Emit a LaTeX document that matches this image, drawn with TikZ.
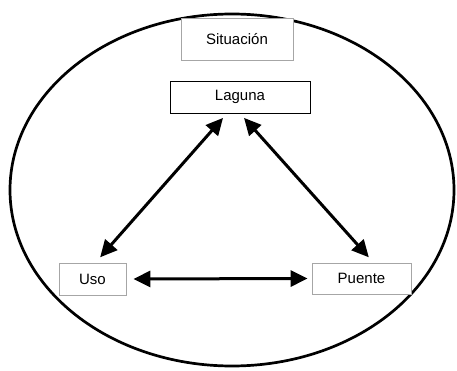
\documentclass[tikz,border=0pt]{standalone}
\usepackage{fontspec}
\setmainfont{Liberation Sans}
\usetikzlibrary{arrows.meta}
\begin{document}
\begin{tikzpicture}[x=1pt,y=1pt,
  box/.style={draw=gray!70,line width=0.9pt,fill=white,minimum width=#1,minimum height=32pt,inner sep=0pt,font=\fontsize{15}{17}\selectfont},
  blackbox/.style={box=#1,draw=black,line width=0.8pt},
  dbl/.style={line width=3pt,{Triangle[length=17pt,width=16pt]}-{Triangle[length=17pt,width=16pt]}}]
\useasboundingbox (0,0) rectangle (457,-371);
\draw[line width=2.7pt] (232,-190) ellipse [x radius=222, y radius=176];
\node[box=112pt,minimum height=42pt] (sit) at (237,-39) {Situación};
\node[blackbox=140pt] (lag) at (240,-97) {Laguna};
\node[box=67pt] (uso) at (92.5,-279) {Uso};
\node[box=99pt,minimum height=31pt] (pue) at (361.5,-278.5) {Puente};
\draw[dbl,shorten <=6pt,shorten >=7pt] ([xshift=-13pt]lag.south) -- ([xshift=3pt]uso.north);
\draw[dbl,shorten <=6pt,shorten >=7pt] ([xshift=0pt]lag.south) -- ([xshift=12pt]pue.north);
\draw[dbl,shorten <=7pt,shorten >=4pt] (uso.east) -- (pue.west);
\end{tikzpicture}
\end{document}
